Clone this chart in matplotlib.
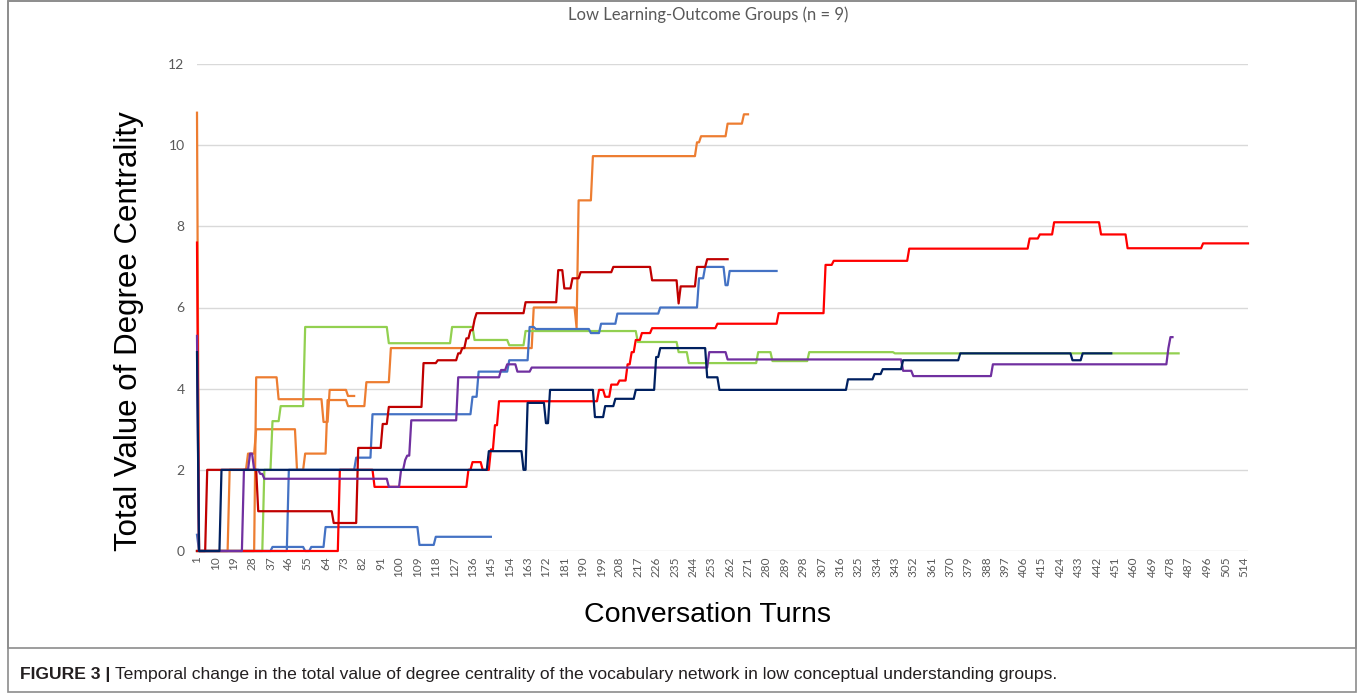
import numpy as np
import matplotlib
matplotlib.use("Agg")
import matplotlib.pyplot as plt
from matplotlib.patches import Rectangle

# ---------------- data (turn, value) breakpoints; value holds until next breakpoint ----------------
orange_a = [(1, 10.8), (2, 0), (17, 2.0), (26, 2.4), (30, 3.0), (50, 2.0), (54, 2.4), (65, 3.72),
            (75, 3.57), (84, 4.16), (96, 5.0), (166, 6.0), (187, 5.5), (188, 8.64), (195, 9.73),
            (246, 10.07), (248, 10.22), (261, 10.53), (269, 10.76)]
orange_a_end = 271

orange_b = [(1, 0), (30, 4.28), (41, 3.74), (63, 3.18), (66, 3.97), (75, 3.82)]
orange_b_end = 78

blue_a = [(1, 0), (46, 2.0), (79, 2.3), (87, 3.37), (136, 3.8), (139, 4.42), (154, 4.7), (164, 5.52),
          (167, 5.47), (194, 5.37), (199, 5.6), (207, 5.85), (228, 6.0), (247, 6.72), (250, 7.0),
          (260, 6.55), (262, 6.9)]
blue_a_end = 285

blue_b = [(1, 0.4), (2, 0), (38, 0.1), (54, 0.0), (57, 0.1), (64, 0.59), (110, 0.15), (118, 0.35)]
blue_b_end = 145

green = [(1, 0), (34, 2.0), (38, 3.2), (42, 3.57), (54, 5.52), (95, 5.12), (126, 5.52), (137, 5.2),
         (154, 5.07), (162, 5.42), (217, 5.15), (237, 4.9), (242, 4.63), (276, 4.9), (283, 4.68),
         (301, 4.9), (343, 4.87)]
green_end = 482

red = [(1, 7.6), (2, 0), (71, 2.0), (88, 1.58), (134, 2.0), (136, 2.19), (141, 2.0), (145, 2.5),
       (147, 3.1), (149, 3.69), (198, 3.97), (201, 3.8), (204, 4.1), (208, 4.2), (212, 4.6), (214, 4.9),
       (216, 5.2), (219, 5.37), (224, 5.49), (256, 5.6), (286, 5.86), (309, 7.05), (313, 7.15),
       (350, 7.45), (409, 7.7), (414, 7.8), (421, 8.1), (444, 7.8), (457, 7.46), (494, 7.58)]
red_end = 516

dark_red = [(1, 0), (6, 2.0), (31, 0.98), (68, 0.69), (80, 2.54), (92, 3.13), (95, 3.55), (112, 4.63),
            (119, 4.7), (129, 4.87), (131, 5.0), (133, 5.24), (135, 5.44), (137, 5.7), (138, 5.86),
            (162, 6.13), (178, 6.92), (181, 6.47), (185, 6.72), (189, 6.87), (205, 7.0), (224, 6.67),
            (237, 6.1), (238, 6.52), (246, 7.0), (251, 7.19)]
dark_red_end = 261

purple = [(1, 5.3), (2, 0), (24, 2.0), (27, 2.4), (29, 2.0), (32, 1.9), (34, 1.78), (95, 1.58),
          (101, 2.0), (103, 2.24), (104, 2.35), (106, 3.22), (129, 4.28), (150, 4.46), (153, 4.6),
          (158, 4.42), (165, 4.52), (252, 4.9), (261, 4.72), (347, 4.44), (352, 4.31), (391, 4.6),
          (477, 5.0), (478, 5.27)]
purple_end = 479

navy = [(1, 4.9), (2, 0), (13, 2.0), (144, 2.46), (161, 2.0), (163, 3.65), (172, 3.15), (174, 3.97),
        (196, 3.3), (201, 3.57), (206, 3.75), (216, 3.97), (226, 4.78), (228, 5.0), (251, 4.28),
        (257, 3.97), (320, 4.23), (333, 4.36), (337, 4.48), (347, 4.7), (375, 4.87), (430, 4.7),
        (435, 4.87)]
navy_end = 449

tick_turns = list(range(1, 515, 9))
tick_labels = [str(t) for t in tick_turns]
y_ticks = [0, 2, 4, 6, 8, 10, 12]

series = [
    (blue_b, blue_b_end, "#4472C4"),
    (orange_a, orange_a_end, "#ED7D31"),
    (orange_b, orange_b_end, "#ED7D31"),
    (green, green_end, "#92D050"),
    (blue_a, blue_a_end, "#4472C4"),
    (red, red_end, "#FF0000"),
    (dark_red, dark_red_end, "#C00000"),
    (purple, purple_end, "#7030A0"),
    (navy, navy_end, "#002060"),
]


def expand(points, end):
    turns = np.arange(1, end + 1)
    bp_t = np.array([p[0] for p in points])
    bp_v = np.array([p[1] for p in points])
    idx = np.searchsorted(bp_t, turns, side="right") - 1
    return turns, bp_v[idx]


W, H = 1363, 693
fig = plt.figure(figsize=(W / 100, H / 100), dpi=100)
fig.patch.set_facecolor("white")

L, R, T, B = 197, 1248, 64, 551
ax = fig.add_axes([L / W, 1 - B / H, (R - L) / W, (B - T) / H])
ax.set_xlim(1, 516)
ax.set_ylim(0, 12)

for pts, end, col in series:
    x, y = expand(pts, end)
    ax.plot(x, y, color=col, lw=1.6, solid_joinstyle="round", clip_on=False)

for s in ax.spines.values():
    s.set_visible(False)
ax.set_yticks(y_ticks)
ax.set_yticklabels([str(v) for v in y_ticks], fontsize=10, color="#595959", family="Lato")
ax.yaxis.grid(True, color="#D9D9D9", lw=1.0)
ax.set_axisbelow(True)
ax.set_xticks(tick_turns)
ax.set_xticklabels(tick_labels, rotation=90, fontsize=8.5, color="#595959", family="Lato")
ax.tick_params(axis="x", length=0, pad=4)
ax.tick_params(axis="y", length=0, pad=9)

fig.text(708 / W, 1 - 15 / H, "Low Learning-Outcome Groups (n = 9)", ha="center", va="center",
         fontsize=12, color="#595959", family="Lato")
fig.text(129 / W, 1 - 331 / H, "Total Value of Degree Centrality", rotation=90, ha="center", va="center",
         fontsize=22.5, color="black", family="Liberation Sans")
fig.text(708 / W, 1 - 615 / H, "Conversation Turns", ha="center", va="center",
         fontsize=20.5, color="black", family="Liberation Sans")

# caption
cap_y = 1 - 675 / H
t1 = fig.text(20 / W, cap_y, "FIGURE 3 |", ha="left", va="center", fontsize=12.6, fontweight="bold",
              color="#231F20", family="Liberation Sans")
fig.canvas.draw()
bb = t1.get_window_extent(renderer=fig.canvas.get_renderer())
fig.text(bb.x1 / W + 5 / W, cap_y,
         "Temporal change in the total value of degree centrality of the vocabulary network in low conceptual understanding groups.",
         ha="left", va="center", fontsize=12.6, color="#231F20", family="Liberation Sans")

# borders
fig.patches.append(Rectangle((8 / W, 1 - 648 / H), (1356 - 8) / W, (648 - 1) / H, transform=fig.transFigure,
                             fill=False, edgecolor="#8C8C8C", lw=1.2))
fig.patches.append(Rectangle((8 / W, 1 / H), (1356 - 8) / W, (H - 2) / H, transform=fig.transFigure,
                             fill=False, edgecolor="#8C8C8C", lw=1.2))

fig.savefig("out.png", dpi=100)
